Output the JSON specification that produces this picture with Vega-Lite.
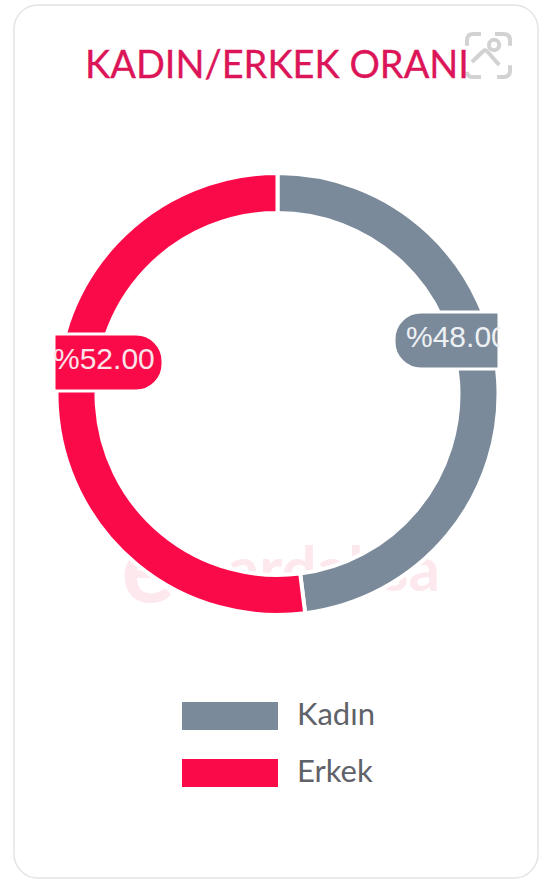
{
"$schema":"https://vega.github.io/schema/vega-lite/v6.json",
"autosize":{"type":"fit","contains":"padding"},
"padding":0,
"width":547,"height":879,"background":"#ffffff",
"config":{"view":{"stroke":null}},
"data":{"values":[{"cinsiyet":"Kadın","oran":48,"sira":1},{"cinsiyet":"Erkek","oran":52,"sira":2}]},
"layer":[
{"data":{"values":[{"kart":"kart"}]},"mark":{"type":"rect","fill":"#ffffff","stroke":"#e4e4e6","strokeWidth":1.5,"cornerRadius":24,"x":14,"x2":538,"y":5,"y2":878},"encoding":{}},
{"data":{"values":[{"filigran":"e"}]},"mark":{"type":"text","x":148,"y":572,"align":"center","baseline":"middle","font":"Lato","fontSize":100,"fontWeight":"bold","color":"#fde8ed"},"encoding":{"text":{"field":"filigran"}}},
{"data":{"values":[{"filigran":"ardaksa"}]},"mark":{"type":"text","x":440,"y":572,"align":"right","baseline":"middle","font":"Lato","fontSize":62,"fontWeight":"bold","color":"#fde8ed"},"encoding":{"text":{"field":"filigran"}}},
{"mark":{"type":"arc","x":277.5,"y":394,"outerRadius":221,"innerRadius":181,"stroke":"#ffffff","strokeWidth":4},
"encoding":{"theta":{"field":"oran","type":"quantitative","stack":true},"order":{"field":"sira"},
"color":{"field":"cinsiyet","type":"nominal","scale":{"domain":["Kadın","Erkek"],"range":["#7b8a9b","#fb0a49"]},
"legend":{"title":null,"orient":"none","legendX":182,"legendY":692,"symbolType":"M-1,-0.58H3V0.58H-1Z","symbolSize":2304,"symbolStrokeWidth":0,"labelFont":"Lato","labelFontSize":31,"labelColor":"#5f6268","labelOffset":67,"rowPadding":18,"symbolOpacity":1}}}},
{"transform":[{"filter":"datum.cinsiyet==='Kadın'"}],"mark":{"type":"rect","fill":"#7b8a9b","stroke":"#ffffff","strokeWidth":3,"x":394,"x2":499,"y":312,"y2":369,"cornerRadiusTopLeft":27,"cornerRadiusBottomLeft":27},"encoding":{}},
{"transform":[{"filter":"datum.cinsiyet==='Erkek'"}],"mark":{"type":"rect","fill":"#fb0a49","stroke":"#ffffff","strokeWidth":3,"x":54,"x2":163,"y":334,"y2":391,"cornerRadiusTopRight":27,"cornerRadiusBottomRight":27},"encoding":{}},
{"transform":[{"filter":"datum.cinsiyet==='Kadın'"},{"calculate":"'%'+format(datum.oran,'.2f')","as":"etiket"}],"mark":{"type":"text","x":406,"y":338,"align":"left","baseline":"middle","font":"Liberation Sans","fontSize":30,"color":"#eef1f4"},"encoding":{"text":{"field":"etiket"}}},
{"transform":[{"filter":"datum.cinsiyet==='Erkek'"},{"calculate":"'%'+format(datum.oran,'.2f')","as":"etiket"}],"mark":{"type":"text","x":53,"y":360,"align":"left","baseline":"middle","font":"Liberation Sans","fontSize":30,"color":"#fbe3ea"},"encoding":{"text":{"field":"etiket"}}},
{"data":{"values":[{"m":"sag"}]},"mark":{"type":"rect","fill":"#ffffff","x":500,"x2":520,"y":310,"y2":371},"encoding":{}},
{"data":{"values":[{"m":"sol"}]},"mark":{"type":"rect","fill":"#ffffff","x":40,"x2":53,"y":332,"y2":393},"encoding":{}},
{"data":{"values":[{"ikon":"ikon"}]},"mark":{"type":"point","x":488.5,"y":55.5,"size":1849,"filled":false,"stroke":"#d2d2d2","strokeWidth":4,"opacity":1,"shape":"M-1,-0.45V-0.7Q-1,-1 -0.7,-1H-0.35M0.3,-1H0.7Q1,-1 1,-0.7V-0.45M1,0.45V0.7Q1,1 0.7,1H0.4M-0.35,1H-0.7Q-1,1 -1,0.75M-0.77,0.3L-0.25,-0.2Q-0.16,-0.28 -0.07,-0.2L0.5,0.44M0.5,-0.49A0.24,0.24 0 1 1 0.02,-0.49A0.24,0.24 0 1 1 0.5,-0.49Z"},"encoding":{}},
{"data":{"values":[{"baslik":"KADIN/ERKEK ORANI"}]},"mark":{"type":"text","x":277,"y":67,"align":"center","baseline":"middle","font":"Lato","fontSize":38,"color":"#dc1559","stroke":"#dc1559","strokeWidth":0.3},"encoding":{"text":{"field":"baslik"}}}
]
}
